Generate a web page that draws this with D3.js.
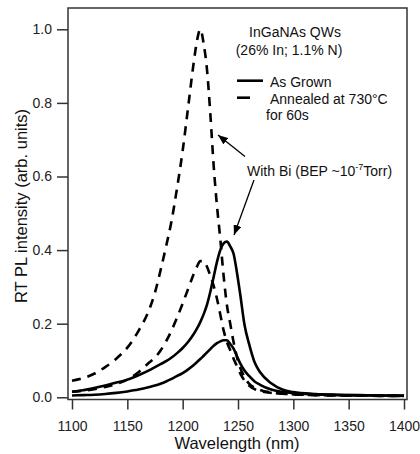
<!DOCTYPE html>
<html>
<head>
<meta charset="utf-8">
<script src="https://cdn.jsdelivr.net/npm/d3@7"></script>
<style>
  html, body { margin: 0; padding: 0; background: #fff; }
  svg { display: block; font-family: "Liberation Sans", Arial, Helvetica, sans-serif; }
</style>
</head>
<body>
<svg id="chart" width="420" height="454"></svg>
<script>
// ---- data ----
const wavelengths = [1100,1110,1120,1130,1140,1150,1160,1170,1175,1180,1185,1190,1195,1200,1205,1210,1213,1216,1219,1222,1225,1228,1231,1234,1237,1240,1243,1246,1249,1252,1256,1260,1265,1270,1280,1290,1300,1320,1340,1360,1380,1400];
// Annealed with Bi (dashed, tall)
const annealedBi = [0.045,0.052,0.064,0.082,0.105,0.135,0.18,0.24,0.285,0.345,0.41,0.48,0.57,0.67,0.79,0.91,0.97,1.0,0.96,0.89,0.77,0.63,0.52,0.43,0.33,0.25,0.2,0.15,0.11,0.08,0.055,0.037,0.026,0.02,0.013,0.01,0.008,0.006,0.005,0.005,0.004,0.004];
// Annealed without Bi (dashed, small)
const annealed = [0.015,0.018,0.022,0.028,0.036,0.048,0.068,0.095,0.108,0.127,0.152,0.182,0.217,0.255,0.295,0.335,0.356,0.37,0.37,0.355,0.33,0.303,0.268,0.225,0.182,0.15,0.128,0.105,0.085,0.065,0.045,0.032,0.022,0.017,0.012,0.01,0.008,0.006,0.005,0.005,0.004,0.004];
// As grown with Bi (solid, tall)
const grownBi = [0.015,0.019,0.025,0.032,0.04,0.048,0.06,0.074,0.082,0.09,0.098,0.108,0.12,0.134,0.151,0.172,0.187,0.205,0.226,0.252,0.287,0.327,0.368,0.4,0.418,0.423,0.41,0.39,0.34,0.28,0.195,0.145,0.095,0.068,0.038,0.021,0.014,0.009,0.007,0.006,0.005,0.005];
// As grown without Bi (solid, small)
const grown = [0.005,0.006,0.007,0.009,0.012,0.016,0.021,0.028,0.032,0.037,0.043,0.05,0.058,0.066,0.076,0.088,0.096,0.104,0.113,0.122,0.131,0.14,0.147,0.152,0.155,0.155,0.145,0.132,0.112,0.092,0.072,0.058,0.043,0.034,0.021,0.015,0.011,0.008,0.006,0.005,0.005,0.004];

const xTicks = [1100,1150,1200,1250,1300,1350,1400];
const yTicks = [0.0,0.2,0.4,0.6,0.8,1.0];

const seriesList = [
  {name: "annealedBi", values: annealedBi, dashed: true},
  {name: "annealed", values: annealed, dashed: true},
  {name: "grownBi", values: grownBi, dashed: false},
  {name: "grown", values: grown, dashed: false}
];

// ---- layout ----
const svg = d3.select("#chart");
const frame = {left: 68, right: 407, top: 8, bottom: 399.5};
const x = d3.scaleLinear().domain([1100, 1400]).range([72, 404]);
const y = d3.scaleLinear().domain([0, 1]).range([397.3, 29.3]);
const ink = "#111";

// frame
svg.append("rect")
  .attr("x", frame.left).attr("y", frame.top)
  .attr("width", frame.right - frame.left).attr("height", frame.bottom - frame.top)
  .attr("fill", "none").attr("stroke", "#333").attr("stroke-width", 1.5);

// axes
const xAxis = svg.append("g")
  .attr("transform", `translate(0,${frame.bottom})`)
  .call(d3.axisBottom(x).tickValues(xTicks).tickFormat(d3.format("d")).tickSize(10).tickSizeOuter(0).tickPadding(12));
const yAxis = svg.append("g")
  .attr("transform", `translate(${frame.left},0)`)
  .call(d3.axisLeft(y).tickValues(yTicks).tickFormat(d3.format(".1f")).tickSize(11).tickSizeOuter(0).tickPadding(5));
[xAxis, yAxis].forEach(g => {
  g.select(".domain").remove();
  g.selectAll(".tick line").attr("stroke", "#333").attr("stroke-width", 1.5);
  g.selectAll(".tick text").attr("fill", "#222").style("font-size", "14px").style("font-family", '"Liberation Sans", Arial, sans-serif');
});

// axis titles
svg.append("text")
  .attr("x", 237).attr("y", 448.5)
  .attr("text-anchor", "middle")
  .style("font-size", "16.5px").attr("fill", ink)
  .text("Wavelength (nm)");
svg.append("text")
  .attr("transform", "translate(27,206) rotate(-90)")
  .attr("text-anchor", "middle")
  .style("font-size", "16.5px").attr("fill", ink)
  .text("RT PL intensity (arb. units)");

// curves
const line = d3.line()
  .x((d, i) => x(wavelengths[i]))
  .y(d => y(d))
  .curve(d3.curveMonotoneX);

svg.append("g").selectAll("path")
  .data(seriesList)
  .join("path")
  .attr("d", s => line(s.values))
  .attr("fill", "none")
  .attr("stroke", "#000")
  .attr("stroke-width", 2.6)
  .attr("stroke-dasharray", s => s.dashed ? "9,7" : null);

// legend
const leg = svg.append("g").style("font-size", "14px").attr("fill", ink);
leg.append("text").attr("x", 295).attr("y", 37).attr("text-anchor", "middle").text("InGaNAs QWs");
leg.append("text").attr("x", 289).attr("y", 55).attr("text-anchor", "middle").text("(26% In; 1.1% N)");
leg.append("line").attr("x1", 237).attr("x2", 263).attr("y1", 80.7).attr("y2", 80.7)
  .attr("stroke", "#000").attr("stroke-width", 2.6);
leg.append("text").attr("x", 270).attr("y", 86.5).text("As Grown");
leg.append("line").attr("x1", 237).attr("x2", 250).attr("y1", 97.7).attr("y2", 97.7)
  .attr("stroke", "#000").attr("stroke-width", 2.6);
leg.append("text").attr("x", 270).attr("y", 103.5).text("Annealed at 730\u00B0C");
leg.append("text").attr("x", 266).attr("y", 120).text("for 60s");

// annotation
const ann = svg.append("text").attr("x", 247).attr("y", 176).style("font-size", "14px").attr("fill", ink);
ann.append("tspan").text("With Bi (BEP ~10");
ann.append("tspan").attr("dy", -6).style("font-size", "9px").text("-7");
ann.append("tspan").attr("dy", 6).text("Torr)");

// arrows
const defs = svg.append("defs");
defs.append("marker")
  .attr("id", "arrow").attr("viewBox", "0 0 10 8")
  .attr("refX", 10).attr("refY", 4)
  .attr("markerWidth", 10).attr("markerHeight", 8)
  .attr("markerUnits", "userSpaceOnUse")
  .attr("orient", "auto")
  .append("path").attr("d", "M0,0 L10,4 L0,8 Z").attr("fill", "#000");

const arrows = [
  {from: [245, 156.5], to: [218, 135]},
  {from: [254, 180], to: [234, 235]}
];
svg.append("g").selectAll("line")
  .data(arrows)
  .join("line")
  .attr("x1", d => d.from[0]).attr("y1", d => d.from[1])
  .attr("x2", d => d.to[0]).attr("y2", d => d.to[1])
  .attr("stroke", "#000").attr("stroke-width", 1.3)
  .attr("marker-end", "url(#arrow)");
</script>
</body>
</html>
